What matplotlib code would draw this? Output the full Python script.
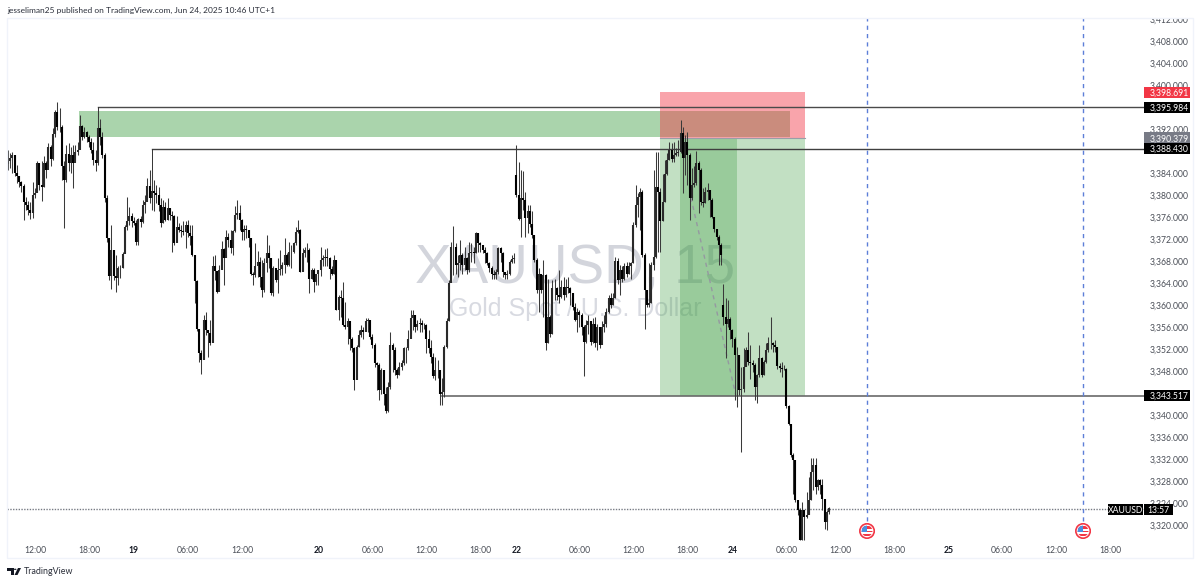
import numpy as np
import matplotlib
matplotlib.use("Agg")
import matplotlib.pyplot as plt
from matplotlib.patches import Rectangle, Circle, Polygon

plt.rcParams['font.family'] = ['Lato', 'DejaVu Sans']

# 15 min XAUUSD candles, opens follow the previous close
closes = [
    3386.1, 3386.7, 3387.2, 3384, 3383.4, 3382.3, 3381.7, 3378.8, 3378.2, 3377.3,
    3376.7, 3380, 3380.3, 3385.8, 3381.8, 3381.5, 3385.8, 3384.6, 3388.8, 3386.6,
    3391, 3395, 3392.3, 3392.4, 3385.2, 3382.7, 3387.4, 3385.8, 3387.3, 3385.8,
    3387.9, 3388.2, 3392.6, 3390.6, 3391.5, 3390.6, 3389.7, 3388.2, 3386.4, 3385.8,
    3392.1, 3390.6, 3387.3, 3379.4, 3372.2, 3365.2, 3370, 3365.3, 3364.9, 3366.7,
    3366.8, 3369.3, 3374.2, 3375.2, 3376.2, 3375.2, 3374.9, 3371.5, 3375.6, 3375,
    3378.2, 3378.8, 3381.6, 3379.4, 3380.8, 3380.3, 3380, 3378.2, 3374.9, 3377.9,
    3375.5, 3377.6, 3376.4, 3376.1, 3371.2, 3374.2, 3373.6, 3373.4, 3373.3, 3374.5,
    3373, 3372.5, 3369.1, 3364.4, 3355.6, 3351.2, 3350, 3357.3, 3355.5, 3354.9,
    3353, 3367, 3366.1, 3362.4, 3366.4, 3370.1, 3368.5, 3372.4, 3371.8, 3370.3,
    3373.5, 3376.4, 3376.8, 3375.4, 3373.3, 3373.9, 3373.6, 3372.1, 3365.7, 3365.4,
    3367, 3367.9, 3365, 3362.7, 3367.6, 3369.4, 3368.5, 3362.1, 3366.7, 3364.5,
    3366.4, 3366.6, 3367.3, 3369.1, 3367.3, 3369.7, 3369.7, 3371.2, 3373.3, 3373.6,
    3366, 3369.4, 3370, 3370, 3364.8, 3366.4, 3364.2, 3365.7, 3366.3, 3368.2,
    3368.5, 3368.8, 3368.5, 3366.6, 3365.7, 3368.2, 3359.1, 3361.5, 3361.2, 3356.3,
    3356, 3357.1, 3353.9, 3352.1, 3346.3, 3352.4, 3354.5, 3355.4, 3355.1, 3357.1,
    3357.3, 3354.2, 3352.7, 3349.4, 3349.1, 3344.5, 3348.2, 3343.9, 3340.8, 3345.1,
    3352.7, 3351.8, 3348.2, 3347.3, 3348.8, 3349.4, 3352.1, 3352.1, 3353.9, 3357.6,
    3358.2, 3356, 3356.6, 3356.8, 3356.4, 3356.4, 3353.9, 3352.1, 3350.6, 3347,
    3348.2, 3348.2, 3343.9, 3344.2, 3352.4, 3357.1, 3364, 3370.5, 3370.6, 3367.3,
    3367.6, 3369.1, 3367.3, 3368.5, 3366.3, 3369.5, 3369.7, 3369.5, 3373, 3371.2,
    3370.9, 3370, 3369.4, 3367.6, 3366.7, 3365.7, 3365.4, 3366, 3370.3, 3369.4,
    3366, 3365.4, 3365.6, 3367.9, 3368.3, 3368.5, 3380, 3375.6, 3379.4, 3379.1,
    3375.9, 3377, 3374.8, 3372.7, 3368.2, 3362.7, 3365.7, 3362.7, 3365.4, 3353,
    3357.9, 3354.8, 3363, 3363, 3361.8, 3361.5, 3363.3, 3361.8, 3363.3, 3363,
    3362.1, 3359.7, 3357.3, 3358.8, 3358.2, 3356, 3353.3, 3356.4, 3357, 3353.3,
    3356.6, 3353, 3356, 3352.7, 3356, 3356.6, 3358.8, 3361.2, 3360, 3361.2,
    3368, 3364.5, 3366.3, 3364.8, 3367, 3365.7, 3367.1, 3367.6, 3374.5, 3378.2,
    3379.7, 3380.6, 3369.1, 3362.7, 3360, 3360.3, 3367.3, 3368.8, 3381.5, 3380.6,
    3375.2, 3378.8, 3383.9, 3386.4, 3388.2, 3386.5, 3387.3, 3387.6, 3387.9, 3391.2,
    3386.7, 3389.7, 3387.3, 3379.4, 3381.8, 3382.1, 3385.9, 3384.5, 3378.8, 3378.5,
    3380.6, 3380.9, 3379.1, 3376, 3373.9, 3372.4, 3370.9, 3369, 3357.8, 3356.6,
    3357.5, 3355.4, 3353.9, 3350.9, 3350.9, 3344.5, 3344.8, 3348.7, 3351.8, 3349.7,
    3349.4, 3349, 3345, 3347.2, 3350.4, 3347.2, 3349.7, 3351.8, 3353, 3353,
    3352.7, 3352.4, 3348.9, 3348.6, 3348.4, 3348.4, 3341.6, 3338.4, 3332.7, 3331.8,
    3324.5, 3322.7, 3317.2, 3322.7, 3321.5, 3321.8, 3324.5, 3329.7, 3330.9, 3326.9,
    3328.1, 3327.2, 3324.8, 3320.6, 3322.4, 3323,
]
highs = [
    3388.2, 3387.6, 3387.9, 3387.3, 3385.5, 3383.4, 3382.6, 3382, 3379.7, 3378.9,
    3378.8, 3382.3, 3381.2, 3386.1, 3385.8, 3386.1, 3387, 3386.1, 3389.4, 3389.1,
    3392.1, 3395.5, 3396.9, 3395.8, 3392.7, 3386.1, 3389.1, 3389.4, 3388.8, 3389.1,
    3389.1, 3389.7, 3394.6, 3392.7, 3392.3, 3391.7, 3390.9, 3390.3, 3389.7, 3388.2,
    3396, 3393.9, 3391.5, 3387.6, 3380, 3372.1, 3374.5, 3370, 3369.1, 3367,
    3367.3, 3369.7, 3374.5, 3379.7, 3377.8, 3376.7, 3376, 3375.4, 3375.8, 3376.1,
    3379.1, 3380, 3383, 3384.5, 3384.5, 3382.7, 3381.8, 3381.5, 3379.4, 3379.1,
    3378.8, 3379.4, 3377.6, 3377, 3376.4, 3376.1, 3374.9, 3374.6, 3375.2, 3375.2,
    3375.5, 3374.5, 3374.5, 3369.1, 3364.6, 3355.5, 3351.8, 3358.2, 3358.8, 3355.5,
    3357.3, 3368.9, 3369.1, 3366.1, 3367.3, 3371.7, 3370.3, 3373.7, 3373, 3373.6,
    3373.7, 3378, 3379, 3378.2, 3375.7, 3374.5, 3374.5, 3373.6, 3372.1, 3366,
    3371.2, 3369.8, 3368.8, 3368.2, 3368.5, 3372.8, 3370.9, 3368.5, 3367, 3366.4,
    3368.5, 3370, 3367.9, 3372.1, 3369.4, 3371.5, 3370.9, 3371.5, 3374.1, 3375.4,
    3373.9, 3370.3, 3370.6, 3371.3, 3370.3, 3366.7, 3366.7, 3365.7, 3366.3, 3370.5,
    3369.1, 3370.1, 3370.3, 3368.8, 3367, 3369.1, 3368.2, 3361.8, 3362.7, 3364.2,
    3360.6, 3357.6, 3356.6, 3354.2, 3352.4, 3352.7, 3355.4, 3356.3, 3356, 3357.6,
    3357.6, 3357.3, 3354.8, 3353, 3349.7, 3349.4, 3348.5, 3348.2, 3345.1, 3346,
    3355.1, 3353, 3352.4, 3348.5, 3349.7, 3350, 3352.4, 3352.4, 3355.4, 3359.1,
    3359.1, 3358.2, 3357.3, 3357.6, 3357.3, 3356.7, 3356.6, 3355.4, 3353.6, 3351.2,
    3350.6, 3350, 3348.2, 3346.7, 3352.7, 3357.6, 3364.5, 3371.5, 3374.3, 3371.2,
    3369.1, 3371.8, 3369.4, 3370.6, 3368.8, 3371.5, 3371.2, 3370.6, 3373.3, 3373.1,
    3371.5, 3370.9, 3370.6, 3369.7, 3367.9, 3367, 3366.3, 3366.6, 3370.6, 3370.6,
    3369.7, 3366, 3366.3, 3368.2, 3369.1, 3369.4, 3389, 3386, 3384.5, 3384.4,
    3380.6, 3378.2, 3378.2, 3377, 3372.7, 3368.5, 3366.7, 3365.7, 3368.2, 3365.7,
    3364.8, 3358.2, 3364.5, 3364.8, 3363.3, 3366.3, 3364.5, 3365.1, 3364.8, 3365.1,
    3363.3, 3362.1, 3360.3, 3359.4, 3359.1, 3358.5, 3356.4, 3357.3, 3358.2, 3356.6,
    3357.6, 3357.9, 3356.6, 3356, 3357, 3358.2, 3359.4, 3361.8, 3362.1, 3362.1,
    3368.8, 3368.5, 3367.3, 3367, 3367.6, 3367.9, 3367.9, 3367.9, 3375, 3381.8,
    3380.3, 3381.2, 3380.9, 3369.4, 3362.7, 3367.6, 3367.9, 3384.5, 3387.9, 3387.9,
    3381.2, 3383.9, 3386.4, 3387.6, 3389.7, 3389.4, 3389.7, 3388.5, 3390, 3393.6,
    3392.4, 3390.9, 3391.5, 3387.6, 3384.9, 3385.2, 3388, 3386.1, 3384.9, 3381.2,
    3381.5, 3382.1, 3380.9, 3379.4, 3376, 3373.9, 3372.7, 3371.2, 3363.9, 3361.2,
    3360.9, 3357.8, 3355.7, 3354.2, 3352.4, 3350.9, 3348.7, 3352.1, 3352.4, 3355.1,
    3352.7, 3350, 3349.4, 3347.5, 3352.7, 3350.6, 3350, 3353, 3354.2, 3357.8,
    3353.3, 3353.6, 3352.4, 3349.4, 3349.7, 3349, 3348.6, 3341.8, 3338.4, 3333,
    3331.8, 3324.5, 3323, 3324.2, 3322.7, 3326, 3328.8, 3332.1, 3332.1, 3332.1,
    3328.4, 3328.4, 3328.4, 3324.8, 3322.7, 3323.3,
]
lows = [
    3384.6, 3384.9, 3384, 3383.4, 3382.1, 3381.5, 3380.6, 3375.5, 3377.3, 3376.4,
    3375.7, 3375.8, 3379.4, 3381.2, 3380.9, 3378.9, 3381.5, 3383, 3385.2, 3385.2,
    3386.4, 3390.6, 3391.8, 3391.5, 3382.7, 3374, 3382.4, 3384.3, 3384, 3381.2,
    3386.4, 3387.3, 3390, 3390, 3390.3, 3389.6, 3388.8, 3387.6, 3385.5, 3384.3,
    3385.5, 3389.1, 3386.7, 3378.8, 3371.5, 3364.6, 3362.9, 3364.6, 3362.4, 3363.6,
    3364.9, 3366.7, 3370.5, 3373.6, 3374.5, 3374.2, 3374.6, 3370.9, 3370.9, 3374.2,
    3374.9, 3376.7, 3379.1, 3378.5, 3377.3, 3377, 3378.5, 3377, 3374.2, 3374.9,
    3375.2, 3375.5, 3375.5, 3369.7, 3370.9, 3373, 3373.2, 3372.4, 3372.7, 3370.3,
    3372.4, 3370.9, 3368.9, 3360.3, 3355.2, 3349.7, 3347.4, 3350.3, 3354.6, 3350.6,
    3352.7, 3363.3, 3364.6, 3362.2, 3363.6, 3367.9, 3363.6, 3368.8, 3370.6, 3369.4,
    3369.1, 3373.3, 3375.7, 3373.6, 3371.8, 3371.8, 3372.1, 3370.6, 3365.4, 3363.6,
    3365, 3365.1, 3363.3, 3361.5, 3362.4, 3366, 3366.7, 3361.8, 3361.6, 3364.2,
    3362.1, 3365.4, 3365.4, 3365.8, 3367, 3367, 3366.7, 3369.4, 3370.9, 3373,
    3366, 3366.3, 3368.8, 3367.9, 3362.1, 3364.8, 3362.4, 3363.6, 3363.6, 3365.3,
    3367, 3367.1, 3367, 3364.8, 3365.4, 3365.7, 3359, 3357.3, 3357.9, 3356.2,
    3355.7, 3352.9, 3351.8, 3351.5, 3344.5, 3350.9, 3352.4, 3354.2, 3353.9, 3355.4,
    3355.1, 3353.9, 3352.1, 3348.8, 3344.5, 3342.7, 3343.9, 3341.8, 3340.3, 3340.6,
    3344.8, 3347.9, 3347.3, 3346.7, 3347.3, 3348.2, 3349.1, 3349.4, 3351.8, 3354.8,
    3355.4, 3355.1, 3355.4, 3355.1, 3355.1, 3355.7, 3351.2, 3351.2, 3349.4, 3346.7,
    3346.3, 3346.7, 3341.8, 3341.8, 3343.3, 3352.1, 3357, 3364.2, 3365.4, 3365.7,
    3365.1, 3366.4, 3365.7, 3366.4, 3365.7, 3366, 3367.9, 3367.6, 3369.4, 3369.7,
    3369.7, 3369.4, 3367.6, 3367.3, 3366, 3364.8, 3364.8, 3364.8, 3365.7, 3367.9,
    3365.1, 3364.8, 3364.8, 3365.4, 3367.6, 3367.6, 3379.7, 3375.4, 3372.3, 3377.3,
    3372.4, 3373, 3374.2, 3372.1, 3367.9, 3362.1, 3358.8, 3362.1, 3357.9, 3351.8,
    3353, 3354.2, 3354.8, 3360.9, 3360.9, 3360.3, 3361.2, 3360.9, 3361.5, 3362.1,
    3360, 3359.1, 3357, 3355.1, 3356, 3354.5, 3347, 3353, 3354.8, 3352.7,
    3353, 3352.4, 3351.8, 3352.1, 3353.9, 3355.1, 3356, 3358.5, 3359.4, 3360,
    3361.2, 3363.9, 3361.8, 3364.2, 3364.5, 3365.1, 3365.7, 3364.8, 3367.6, 3374.2,
    3376, 3373.6, 3368.8, 3355.7, 3359.7, 3359.7, 3360.3, 3366.3, 3368.5, 3369.7,
    3369.7, 3375.2, 3378.8, 3383.6, 3386.4, 3386, 3386, 3387, 3387, 3387.6,
    3380.3, 3383.6, 3381.8, 3375.5, 3379.1, 3381.5, 3381.8, 3376.7, 3378.2, 3377.9,
    3378.5, 3379.1, 3376, 3375.8, 3373.3, 3371.8, 3367.3, 3367.3, 3356.3, 3350.3,
    3356, 3353.9, 3352.4, 3342.7, 3341.5, 3343.6, 3333.3, 3344.2, 3350, 3349,
    3346.6, 3347.8, 3342.7, 3342.1, 3346.9, 3346.9, 3347.2, 3349.4, 3351.5, 3352,
    3351.5, 3351.5, 3348.4, 3347.8, 3346.9, 3348.1, 3341.2, 3338.1, 3332.4, 3325.7,
    3324.2, 3321.8, 3317.2, 3317.2, 3317.2, 3321.2, 3322, 3324.5, 3326.3, 3325.7,
    3326.3, 3325.7, 3322.7, 3319.3, 3319, 3322,
]
gap_bars = [226, 318]
gap_opens = [3383.6, 3360]

# 3396, 3388 and 3344 sit fully behind the price tags
price_ticks = [3320, 3324, 3328, 3332, 3336, 3340, 3348, 3352, 3356, 3360, 3364, 3368,
               3372, 3376, 3380, 3384, 3392, 3400, 3404, 3408, 3412]
time_ticks = [12, 36, 56, 80, 104, 138, 162, 186, 210, 226, 254, 278, 302, 322,
              346, 370, 394, 418, 442, 466, 490]
time_labels = ["12:00", "18:00", "19", "06:00", "12:00", "20", "06:00", "12:00",
               "18:00", "22", "06:00", "12:00", "18:00", "24", "06:00", "12:00",
               "18:00", "25", "06:00", "12:00", "18:00"]
day_labels = ["19", "20", "22", "24", "25"]

level_high = 3395.984
level_mid = 3388.430
level_low = 3343.517
stop_price = 3398.691
entry_price = 3390.379
last_price = 3322.9
event_bars = [381.8, 477.8]

W, H = 1200, 584


def px_box(x0, y0, x1, y1):
    # pixel box, y from the top of the picture, to figure fractions
    return [x0 / W, 1 - y1 / H, (x1 - x0) / W, (y1 - y0) / H]


def tag_box(ax, x0, x1, y, color):
    ax.add_patch(Rectangle((x0, y - 1), x1 - x0, 2, transform=ax.get_yaxis_transform(),
                           fc=color, ec="none", zorder=5, clip_on=False))


def price_tag(ax, y, text, color):
    tag_box(ax, 1.0, 1.0405, y, color)
    ax.text(1.0053, y, text, transform=ax.get_yaxis_transform(), color="white",
            fontsize=6.2, va="center_baseline", ha="left", zorder=6, clip_on=False)


def flag_icon(fig, cx, cy):
    r = 8
    a = fig.add_axes(px_box(cx - r, cy - r, cx + r, cy + r))
    a.set_xlim(-1, 1)
    a.set_ylim(-1, 1)
    a.axis("off")
    a.add_patch(Circle((0, 0), 0.9, fc="white", ec="#f23645", lw=1.2))
    disc = Circle((0, 0), 0.68, transform=a.transData)
    for y0, h, col in [(0.3, 0.38, "#f23645"), (-0.15, 0.2, "#f23645"), (-0.68, 0.25, "#f23645")]:
        a.add_patch(Rectangle((-0.7, y0), 1.4, h, fc=col, ec="none", clip_path=disc))
    a.add_patch(Rectangle((-0.7, -0.1), 0.7, 0.8, fc="#4a90e2", ec="none", clip_path=disc))


closes = np.array(closes)
highs = np.array(highs)
lows = np.array(lows)
opens = np.r_[closes[0] - 0.5, closes[:-1]]
opens[gap_bars] = gap_opens
bars = np.arange(len(closes))

fig = plt.figure(figsize=(W / 100, H / 100), dpi=100, facecolor="white")
ax = fig.add_axes(px_box(7, 18, 1144, 541))
ax.set_xlim(-0.44, 505)
ax.set_ylim(3317.09, 3412.18)
for s in ax.spines.values():
    s.set_visible(False)

# watermark under everything
ax.text(252, 3364, "XAUUSD, 15", fontsize=39.5, family=["Liberation Sans"],
        color="#d3d5dc", ha="center", va="baseline", zorder=0)
ax.text(252, 3358, "Gold Spot / U.S. Dollar", fontsize=18, family=["Liberation Sans"],
        color="#d8dae1", ha="center", va="baseline", zorder=0)

# zones
ax.add_patch(Rectangle((31.5, 3390.5), 316, 4.75, fc="#43a047", alpha=0.45, ec="none", zorder=1))
ax.add_patch(Rectangle((289.8, level_low), 64.4, entry_price - level_low, fc="#43a047",
                       alpha=0.32, ec="none", zorder=1))
ax.add_patch(Rectangle((298.7, level_low), 25.3, entry_price - level_low, fc="#43a047",
                       alpha=0.32, ec="none", zorder=1))
ax.add_patch(Rectangle((289.8, entry_price), 64.4, stop_price - entry_price, fc="#f23645",
                       alpha=0.45, ec="none", zorder=1.2))
ax.plot([289.8, 354.2], [entry_price, entry_price], color="#9a9ea8", lw=0.8, zorder=1.3)

ax.plot([303.6, 323.6], [3379.5, 3343.5], color="#9598a1", lw=1, ls=(0, (3, 3)), zorder=1.5)

# horizontal levels
ax.plot([40, 505], [level_high, level_high], color="#4a4a4a", lw=1, zorder=2)
ax.plot([64, 505], [level_mid, level_mid], color="#3f3f3f", lw=1, zorder=2)
ax.plot([193, 505], [level_low, level_low], color="#6a6a6a", lw=1.2, zorder=2)
ax.plot([40, 40], [level_high, 3392], color="#333333", lw=0.7, zorder=2)
ax.plot([64, 64], [level_mid, 3384], color="#333333", lw=0.7, zorder=2)
ax.plot([-0.44, 505], [last_price, last_price], color="#777b84", lw=1, ls=(0, (1, 1)), zorder=2)

for x in event_bars:
    ax.plot([x, x], [3320.7, 3412.18], color="#5d7fd8", lw=1, ls=(0, (3, 3)), zorder=2)

# candles
up = closes >= opens
ax.vlines(bars, lows, highs, color="#3a3a3a", lw=0.75, zorder=3)
ax.vlines(bars[up], opens[up], closes[up], color="#2a2a2a", lw=1.5, zorder=4)
ax.vlines(bars[~up], closes[~up], opens[~up], color="#000000", lw=1.5, zorder=4)

# axes
ax.yaxis.tick_right()
ax.set_yticks(price_ticks)
ax.set_yticklabels([f"{p:,.3f}" for p in price_ticks], fontsize=6.2, color="#4a4e57")
ax.tick_params(axis="y", length=0, pad=4.2)
ax.set_xticks(time_ticks)
ax.set_xticklabels(time_labels, fontsize=6.2, color="#4a4e57")
ax.tick_params(axis="x", length=0, pad=3.5)
for lbl in ax.get_xticklabels():
    if lbl.get_text() in day_labels:
        lbl.set_color("#131722")
        lbl.set_fontweight("bold")

price_tag(ax, stop_price, "3,398.691", "#f23645")
price_tag(ax, level_high, "3,395.984", "#000000")
price_tag(ax, entry_price, "3,390.379", "#787b86")
price_tag(ax, level_mid, "3,388.430", "#000000")
price_tag(ax, level_low, "3,343.517", "#000000")

tag_box(ax, 0.96834, 0.9995, last_price, "#000000")
tag_box(ax, 1.0, 1.02551, last_price, "#000000")
ax.text(0.98392, last_price, "XAUUSD", transform=ax.get_yaxis_transform(), color="white",
        fontsize=6.2, ha="center", va="center_baseline", zorder=6, clip_on=False)
ax.text(1.01275, last_price, "13:57", transform=ax.get_yaxis_transform(), color="white",
        fontsize=6.2, ha="center", va="center_baseline", zorder=6, clip_on=False)

for x in event_bars:
    flag_icon(fig, 8 + 2.25 * x, 531)

# hide what sticks out above the pane, draw its border
fig.add_artist(Rectangle((0, 1 - 18 / H), 1, 18 / H, transform=fig.transFigure,
                         fc="white", ec="none", zorder=5))
fig.add_artist(Rectangle((7 / W, 1 - 558 / H), 1186 / W, 540 / H, transform=fig.transFigure,
                         fc="none", ec="#f0f3fa", lw=1, zorder=6))

fig.text(7 / W, 1 - 10 / H, "jesseliman25 published on TradingView.com, Jun 24, 2025 10:46 UTC+1",
         fontsize=6, color="#2a2e39", va="center", zorder=7)

# TradingView logo
logo = [[(7, 568), (13.5, 568), (13.5, 575), (10.5, 575), (10.5, 570.5), (7, 570.5)],
        [(14.5, 575), (18, 568), (21, 568), (17.5, 575)]]
for pts in logo:
    fig.add_artist(Polygon([(x / W, 1 - y / H) for x, y in pts], transform=fig.transFigure,
                           fc="#131722", ec="none", zorder=7))
fig.add_artist(Circle((15.2 / W, 1 - 569.3 / H), 1.3 / W, transform=fig.transFigure,
                      fc="#131722", ec="none", zorder=7))
fig.text(24 / W, 1 - 572 / H, "TradingView", fontsize=6.4, color="#2a2e39", va="center", zorder=7)

fig.savefig("out.png", dpi=100)
